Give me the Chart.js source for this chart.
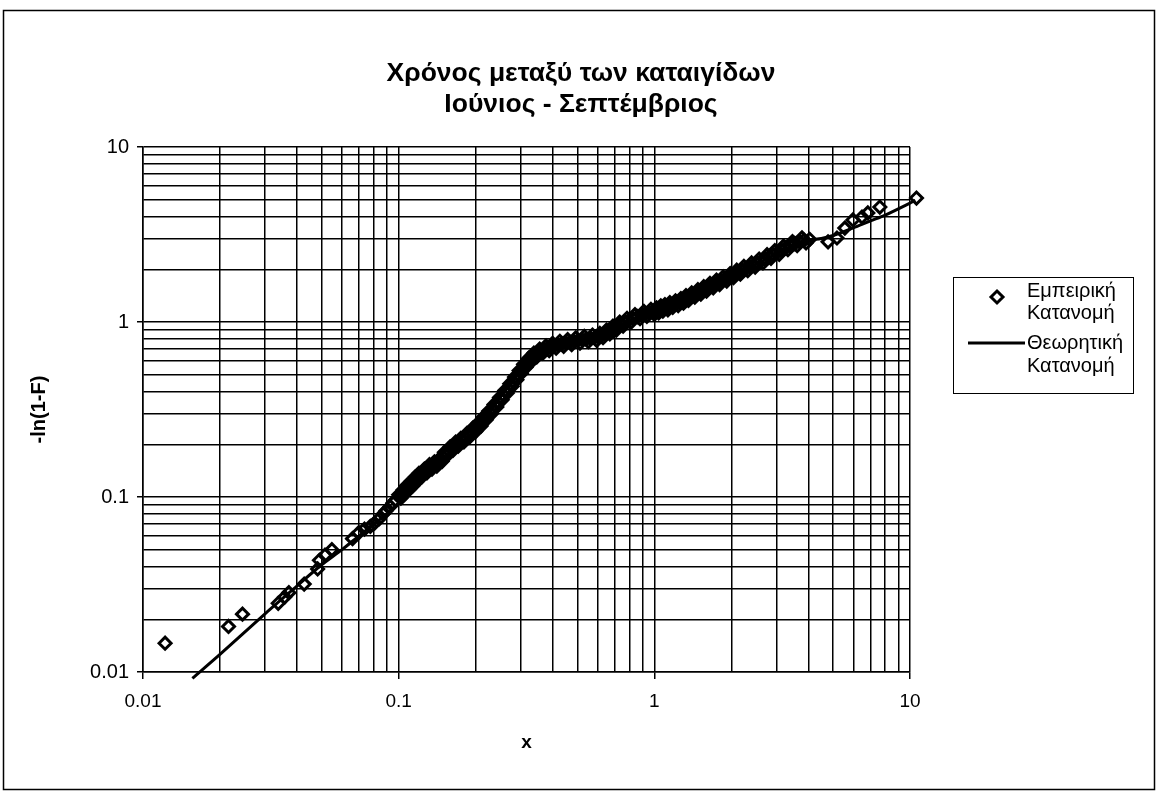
<!DOCTYPE html>
<html>
<head>
<meta charset="utf-8">
<script src="https://cdn.jsdelivr.net/npm/chart.js@4.4.1/dist/chart.umd.min.js"></script>
<style>
  html, body { margin: 0; padding: 0; background: #fff; }
</style>
</head>
<body>
<canvas id="myChart" width="1158" height="804"></canvas>
<script>
// sample points (time between storms, -ln(1-F))
const emp_x = [
  0.0122, 0.0216, 0.0245, 0.0338, 0.0358, 0.0372, 0.0427, 0.0482, 0.0490, 0.0515,
  0.0548, 0.0660, 0.0698, 0.0735, 0.0775, 0.0805, 0.0840, 0.0870, 0.0893, 0.0925,
  0.0950, 0.0975,
  0.1000, 0.1020, 0.1040, 0.1060, 0.1077, 0.1100, 0.1120, 0.1140, 0.1160, 0.1180,
  0.1200, 0.1230, 0.1260, 0.1290, 0.1320, 0.1350, 0.1380, 0.1410, 0.1450, 0.1480,
  0.1510, 0.1550, 0.1590, 0.1630, 0.1670, 0.1710, 0.1750, 0.1800, 0.1850, 0.1900,
  0.1950, 0.2000, 0.2050, 0.2100, 0.2150, 0.2200, 0.2250, 0.2300, 0.2360, 0.2420,
  0.2480, 0.2540, 0.2600, 0.2660, 0.2720, 0.2780, 0.2840, 0.2900, 0.2960, 0.3020,
  0.3080, 0.3150, 0.3220, 0.3300, 0.3380, 0.3470, 0.3560, 0.3660, 0.3770, 0.3880,
  0.4000, 0.4130, 0.4270, 0.4420, 0.4580, 0.4750, 0.4930, 0.5120, 0.5320, 0.5520,
  0.5730, 0.5950, 0.6120, 0.6300, 0.6500, 0.6700, 0.6890, 0.7100, 0.7320, 0.7550,
  0.7820, 0.8100, 0.8400, 0.8790, 0.9100, 0.9350, 0.9700,
  1.00, 1.02, 1.04, 1.06, 1.08, 1.10, 1.13, 1.15, 1.18, 1.21,
  1.24, 1.27, 1.30, 1.33, 1.36, 1.40, 1.44, 1.48, 1.52, 1.56,
  1.60, 1.65, 1.70, 1.75, 1.80, 1.86, 1.92, 1.98, 2.04, 2.10,
  2.17, 2.24, 2.32, 2.40, 2.48, 2.57, 2.66, 2.76, 2.86, 2.96,
  3.08, 3.20, 3.33, 3.47, 3.62, 3.78, 3.92, 4.05,
  4.78, 5.18, 5.56, 5.98, 6.49, 6.84, 7.62, 10.60
];
const emp_y = [
  0.0146, 0.0182, 0.0214, 0.0247, 0.0268, 0.0284, 0.0318, 0.0388, 0.0435, 0.0465,
  0.0500, 0.0578, 0.0625, 0.0655, 0.0680, 0.0710, 0.0752, 0.0800, 0.0835, 0.0880,
  0.0925, 0.0960,
  0.1030, 0.0985, 0.1095, 0.1050, 0.1165, 0.1105, 0.1230, 0.1165, 0.1300, 0.1230,
  0.1365, 0.1300, 0.1445, 0.1375, 0.1530, 0.1445, 0.1590, 0.1500, 0.1665, 0.1600,
  0.1800, 0.1730, 0.1935, 0.1845, 0.2060, 0.1950, 0.2165, 0.2065, 0.2310, 0.2210,
  0.2475, 0.2365, 0.2650, 0.2545, 0.2870, 0.2760, 0.3100, 0.2980, 0.3380, 0.3270,
  0.3700, 0.3590, 0.4055, 0.3925, 0.4440, 0.4290, 0.4845, 0.4685, 0.5280, 0.5100,
  0.5730, 0.5510, 0.6190, 0.5935, 0.6635, 0.6320, 0.7010, 0.6630, 0.7300, 0.6870,
  0.7540, 0.7080, 0.7760, 0.7265, 0.7935, 0.7430, 0.8110, 0.7580, 0.8280, 0.7725,
  0.8425, 0.7860, 0.8610, 0.8130, 0.9000, 0.8545, 0.9465, 0.8995, 0.9985, 0.9475,
  1.0505, 0.9955, 1.1025, 1.0440, 1.1490, 1.0775, 1.1805,
  1.107, 1.206, 1.126, 1.238, 1.155, 1.258, 1.174, 1.290, 1.212, 1.321,
  1.241, 1.362, 1.280, 1.414, 1.328, 1.466, 1.386, 1.529, 1.443, 1.591,
  1.501, 1.664, 1.568, 1.737, 1.636, 1.810, 1.713, 1.893, 1.790, 1.976,
  1.876, 2.080, 1.963, 2.174, 2.059, 2.288, 2.175, 2.423, 2.310, 2.558,
  2.435, 2.714, 2.589, 2.881, 2.733, 3.026, 2.830, 2.970,
  2.87, 3.02, 3.44, 3.83, 3.98, 4.20, 4.54, 5.11
];

// more sample points along the middle of the dense stretch
const band_x = [
  0.101, 0.103, 0.105, 0.1068, 0.1088, 0.111, 0.113, 0.115, 0.117, 0.119,
  0.1215, 0.1245, 0.1275, 0.1305, 0.1335, 0.1365, 0.1395, 0.143, 0.1465, 0.1495,
  0.153, 0.157, 0.161, 0.165, 0.169, 0.173, 0.1775, 0.1825, 0.1875, 0.1925,
  0.1975, 0.2025, 0.2075, 0.2125, 0.2175, 0.2225, 0.2275, 0.233, 0.239, 0.245,
  0.251, 0.257, 0.263, 0.269, 0.275, 0.281, 0.287, 0.293, 0.299, 0.305,
  0.3115, 0.3185, 0.326, 0.334, 0.3425, 0.3515, 0.361, 0.3715, 0.3825, 0.394,
  0.4065, 0.42, 0.4345, 0.45, 0.4665, 0.484, 0.5025, 0.522, 0.542, 0.5625,
  0.584, 0.6035, 0.621, 0.64, 0.66, 0.6795, 0.6995, 0.721, 0.7435, 0.7685,
  0.796, 0.825, 0.8595, 0.8945, 0.9225, 0.9525, 0.985,
  1.01, 1.03, 1.05, 1.07, 1.09, 1.115, 1.14, 1.165, 1.195, 1.225,
  1.255, 1.285, 1.315, 1.345, 1.38, 1.42, 1.46, 1.50, 1.54, 1.58,
  1.625, 1.675, 1.725, 1.775, 1.83, 1.89, 1.95, 2.01, 2.07, 2.135,
  2.205, 2.28, 2.36, 2.44, 2.525, 2.615, 2.71, 2.81, 2.91, 3.02,
  3.14, 3.265, 3.40, 3.545, 3.70, 3.85
];
const band_y = [
  0.1005, 0.1038, 0.1072, 0.1105, 0.1135, 0.1165, 0.1195, 0.1230, 0.1265, 0.1295,
  0.1330, 0.1370, 0.1410, 0.1450, 0.1485, 0.1515, 0.1545, 0.1580, 0.1630, 0.1695,
  0.1765, 0.1830, 0.1890, 0.1950, 0.2005, 0.2055, 0.2115, 0.2185, 0.2260, 0.2340,
  0.2420, 0.2505, 0.2600, 0.2705, 0.2815, 0.2925, 0.3040, 0.3175, 0.3325, 0.3480,
  0.3645, 0.3815, 0.3990, 0.4175, 0.4365, 0.4560, 0.4765, 0.4975, 0.5190, 0.5405,
  0.5620, 0.5840, 0.6060, 0.6275, 0.6475, 0.6655, 0.6815, 0.6955, 0.7080, 0.7195,
  0.7305, 0.7410, 0.7505, 0.7590, 0.7675, 0.7760, 0.7840, 0.7920, 0.7995, 0.8065,
  0.8135, 0.8225, 0.8365, 0.8550, 0.8765, 0.8990, 0.9225, 0.9475, 0.9725, 0.9975,
  1.0225, 1.0475, 1.0725, 1.0950, 1.1125, 1.1275, 1.1425,
  1.155, 1.165, 1.180, 1.195, 1.205, 1.215, 1.230, 1.250, 1.265, 1.280,
  1.300, 1.320, 1.345, 1.370, 1.395, 1.425, 1.455, 1.485, 1.515, 1.545,
  1.580, 1.615, 1.650, 1.685, 1.720, 1.760, 1.800, 1.840, 1.880, 1.925,
  1.975, 2.020, 2.065, 2.115, 2.170, 2.230, 2.295, 2.365, 2.430, 2.495,
  2.570, 2.650, 2.730, 2.805, 2.875, 2.925
];

// fitted curve
const theory_x = [
  0.0156, 0.02, 0.03, 0.04, 0.05, 0.06, 0.07, 0.08, 0.09, 0.1, 0.12, 0.14, 0.16,
  0.18, 0.2, 0.22, 0.25, 0.28, 0.3, 0.33, 0.36, 0.4, 0.45, 0.5, 0.6, 0.7, 0.8, 1,
  1.3, 1.6, 2, 2.5, 3, 3.5, 4, 4.5, 5, 6, 7, 8, 10.5
];
const theory_y = [
  0.0092, 0.0126, 0.0215, 0.031, 0.041, 0.05, 0.06, 0.07, 0.08, 0.092, 0.122, 0.15, 0.18,
  0.21, 0.245, 0.285, 0.37, 0.46, 0.53, 0.62, 0.68, 0.73, 0.765, 0.79, 0.83, 0.92, 1.02, 1.14,
  1.34, 1.58, 1.84, 2.14, 2.45, 2.72, 2.92, 3.0, 3.12, 3.45, 3.78, 4.08, 4.95
];

const decade_ticks = [0.01, 0.1, 1, 10];
const title_lines = ['Χρόνος μεταξύ των καταιγίδων', 'Ιούνιος - Σεπτέμβριος'];
const x_title = 'x';
const y_title = '-ln(1-F)';
const series_names = ['Εμπειρική Κατανομή', 'Θεωρητική Κατανομή'];

// gridlines at 1..9 of every decade
const grid_values = [];
decade_ticks.forEach((d, i) => {
  if (i === decade_ticks.length - 1) { grid_values.push(d); return; }
  for (let m = 1; m < 10; m++) grid_values.push(+(d * m).toPrecision(3));
});

function isDecade(v){
  let l = Math.log10(v);
  return Math.abs(l - Math.round(l)) < 1e-6;
}

function setGridTicks(scale){
  scale.ticks = grid_values.map(v => ({ value: v, major: isDecade(v) }));
}

function toPoints(xs, ys){
  return xs.map((x, i) => ({ x: x, y: ys[i] }));
}

const FONT = '"Liberation Sans", Arial, sans-serif';
Chart.defaults.font.family = FONT;
Chart.defaults.color = '#000';

// frame, title and legend box
const decorations = {
  id: 'decorations',
  afterDraw(chart){
    let ctx = chart.ctx;
    ctx.save();
    ctx.strokeStyle = '#000';
    ctx.lineWidth = 1.5;
    ctx.strokeRect(3.5, 10.5, 1151, 779);

    ctx.fillStyle = '#000';
    ctx.textAlign = 'center';
    ctx.textBaseline = 'middle';
    ctx.font = 'bold 26.5px ' + FONT;
    title_lines.forEach((t, i) => ctx.fillText(t, 581, 74 + i * 31));

    // legend
    ctx.lineWidth = 1;
    ctx.strokeRect(953.5, 277.5, 180, 116);
    ctx.font = '20px ' + FONT;
    ctx.textAlign = 'left';
    let lines0 = series_names[0].split(' ');
    let lines1 = series_names[1].split(' ');
    ctx.fillText(lines0[0], 1027, 291);
    ctx.fillText(lines0[1], 1027, 313);
    ctx.fillText(lines1[0], 1027, 343);
    ctx.fillText(lines1[1], 1027, 366);

    // diamond marker
    let cx = 997, cy = 297, r = 6;
    ctx.beginPath();
    ctx.moveTo(cx, cy - r); ctx.lineTo(cx + r, cy); ctx.lineTo(cx, cy + r); ctx.lineTo(cx - r, cy);
    ctx.closePath();
    ctx.lineWidth = 3; ctx.strokeStyle = '#000'; ctx.stroke();

    // line sample
    ctx.beginPath();
    ctx.moveTo(968, 343); ctx.lineTo(1025, 343);
    ctx.lineWidth = 3; ctx.stroke();
    ctx.restore();
  }
};

function tickMarkColor(c){
  return c.tick && isDecade(c.tick.value) ? '#000' : 'rgba(0,0,0,0)';
}

window.addEventListener('load', () => {
  let ctx = document.getElementById('myChart').getContext('2d');
  new Chart(ctx, {
    type: 'scatter',
    data: {
      datasets: [
        {
          label: series_names[0],
          data: toPoints(emp_x, emp_y).concat(toPoints(band_x, band_y)),
          showLine: false,
          pointStyle: 'rectRot',
          pointRadius: 6,
          pointBorderWidth: 3,
          pointBackgroundColor: 'rgba(0,0,0,0)',
          pointBorderColor: '#000',
          clip: false
        },
        {
          label: series_names[1],
          data: toPoints(theory_x, theory_y),
          showLine: true,
          pointRadius: 0,
          borderColor: '#000',
          borderWidth: 3,
          tension: 0.3,
          clip: false
        }
      ]
    },
    options: {
      responsive: false,
      animation: false,
      devicePixelRatio: 1,
      layout: { padding: { top: 147, left: 20, right: 248, bottom: 40 } },
      plugins: {
        legend: { display: false },
        tooltip: { enabled: false },
        title: { display: false }
      },
      scales: {
        x: {
          type: 'logarithmic',
          position: 'bottom',
          min: 0.01,
          max: 10,
          afterBuildTicks: setGridTicks,
          afterFit(scale){ scale.height = 92; scale.paddingLeft = 0; scale.paddingRight = 0; },
          grid: { color: '#000', lineWidth: 1.5, tickLength: 7, tickColor: tickMarkColor },
          border: { color: '#000', width: 1.5 },
          ticks: {
            autoSkip: false, maxRotation: 0, padding: 11,
            font: { size: 19 }, color: '#000',
            callback: v => isDecade(v) ? String(v) : ''
          },
          title: { display: true, text: x_title, font: { size: 19, weight: 'bold' }, color: '#000', padding: { top: 0, bottom: 10 } }
        },
        y: {
          type: 'logarithmic',
          min: 0.01,
          max: 10,
          afterBuildTicks: setGridTicks,
          afterFit(scale){ scale.width = 123; scale.paddingTop = 0; scale.paddingBottom = 0; },
          grid: { color: '#000', lineWidth: 1.5, tickLength: 6, tickColor: tickMarkColor },
          border: { color: '#000', width: 1.5 },
          ticks: {
            autoSkip: false, padding: 8,
            font: { size: 20 }, color: '#000',
            callback: v => isDecade(v) ? String(v) : ''
          },
          title: { display: true, text: y_title, font: { size: 20, weight: 'bold' }, color: '#000', padding: { top: 7, bottom: 0 } }
        }
      }
    },
    plugins: [decorations]
  });
});
</script>
</body>
</html>
